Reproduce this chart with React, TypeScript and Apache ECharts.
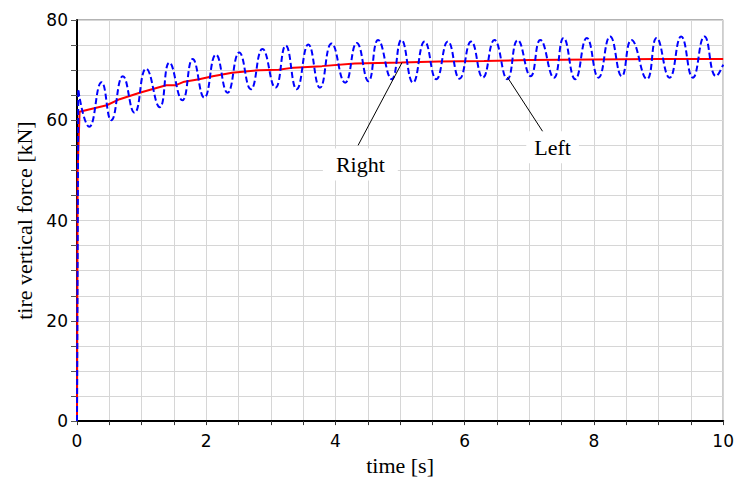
import React, { useEffect, useRef } from "react";
import * as echarts from "echarts";

// Right tire (red, solid)
const redTime = [0, 0.01, 0.04, 0.46, 0.66, 0.97, 1.38, 1.53, 1.66, 1.89, 2.1, 2.4, 2.82, 3.12, 3.35, 3.79, 4.3, 5.02, 5.6, 6.3, 7.0, 8.0, 9.0, 10.0];
const redForce = [0, 50, 61.7, 63.0, 64.2, 65.5, 67.0, 67.0, 67.7, 68.2, 68.8, 69.5, 70.0, 70.1, 70.5, 70.8, 71.3, 71.5, 71.7, 71.8, 72.0, 72.1, 72.2, 72.2];

// Left tire (blue, dashed): initial rise, then oscillation extrema
const blueRiseTime = [0, 0.02];
const blueRiseForce = [0, 66.0];
const blueTime = [
  0.02, 0.19, 0.38, 0.53, 0.71, 0.89, 1.07, 1.28, 1.43, 1.63, 1.79, 1.97, 2.15, 2.33, 2.51, 2.69,
  2.87, 3.07, 3.23, 3.4, 3.58, 3.76, 3.94, 4.15, 4.33, 4.51, 4.66, 4.87, 5.02, 5.2, 5.38, 5.56,
  5.74, 5.92, 6.1, 6.28, 6.46, 6.66, 6.82, 7.02, 7.17, 7.38, 7.53, 7.71, 7.89, 8.07, 8.25, 8.43,
  8.58, 8.82, 8.97, 9.17, 9.35, 9.53, 9.71, 9.89, 10.0,
];
const blueForce = [
  66.0, 58.7, 67.6, 60.0, 68.8, 61.5, 70.3, 62.6, 71.5, 64.0, 72.2, 64.5, 73.1, 65.5, 73.5, 66.2,
  74.2, 66.5, 74.9, 66.2, 75.1, 66.5, 75.3, 67.5, 75.4, 67.8, 76.0, 68.2, 76.0, 67.5, 75.7, 68.2,
  75.7, 68.3, 75.7, 68.5, 76.0, 68.2, 76.0, 68.8, 76.0, 68.5, 76.4, 68.2, 76.4, 68.5, 76.7, 68.8,
  76.0, 68.2, 76.4, 68.5, 76.7, 68.5, 76.7, 68.8, 71.1,
];

const xTickLabels = [0, 2, 4, 6, 8, 10];
const yTickLabels = [0, 20, 40, 60, 80];

const annotationNames = ["Right", "Left"];
const annotationLineStart = [[5.03, 71.5], [6.66, 68.6]];
const annotationLineEnd = [[4.35, 55.0], [7.23, 57.3]];
const annotationLabelAt = [[4.385, 51.2], [7.36, 54.6]];
const annotationPadding = [[5, 13], [5, 8]];

const zip = (xs: number[], ys: number[]) => xs.map((x, i) => [x, ys[i]]);

export default function App() {
  const ref = useRef<HTMLDivElement>(null);
  useEffect(() => {
    if (!ref.current) return;
    const chart = echarts.init(ref.current, null, { renderer: "svg" });
    const serif = "'Liberation Serif', 'Times New Roman', serif";
    const sans = "'DejaVu Sans', sans-serif";
    chart.setOption({
      animation: false,
      backgroundColor: "#fff",
      grid: {
        left: 77,
        right: 10,
        top: 20,
        bottom: 55,
        show: true,
        borderColor: "#666",
        borderWidth: 1,
        containLabel: false,
      },
      xAxis: {
        type: "value",
        min: 0,
        max: 10,
        interval: 0.5,
        name: "time [s]",
        nameLocation: "middle",
        nameGap: 28,
        nameTextStyle: { fontFamily: serif, fontSize: 22, color: "#000" },
        axisLine: { show: true, onZero: false, lineStyle: { color: "#000", width: 2 } },
        axisTick: { show: true, length: 4, lineStyle: { color: "#333" } },
        axisLabel: {
          margin: 11,
          fontFamily: sans,
          fontSize: 17,
          color: "#000",
          formatter: (v: number) => (xTickLabels.includes(v) ? String(v) : ""),
        },
        splitLine: { show: true, lineStyle: { color: "#d6d6d6", width: 1 } },
      },
      yAxis: {
        type: "value",
        min: 0,
        max: 80,
        interval: 5,
        name: "tire vertical force [kN]",
        nameLocation: "middle",
        nameGap: 42,
        nameTextStyle: { fontFamily: serif, fontSize: 22, color: "#000" },
        axisLine: { show: true, onZero: false, lineStyle: { color: "#000", width: 2 } },
        axisTick: { show: true, length: 6, lineStyle: { color: "#555" } },
        axisLabel: {
          margin: 9,
          fontFamily: sans,
          fontSize: 17,
          color: "#000",
          formatter: (v: number) => (yTickLabels.includes(v) ? String(v) : ""),
        },
        splitLine: { show: true, lineStyle: { color: "#d6d6d6", width: 1 } },
      },
      series: [
        {
          name: "Right",
          type: "line",
          data: zip(redTime, redForce),
          showSymbol: false,
          symbol: "none",
          lineStyle: { color: "#ff0000", width: 2 },
          z: 2,
        },
        {
          name: "Left rise",
          type: "line",
          data: zip(blueRiseTime, blueRiseForce),
          showSymbol: false,
          symbol: "none",
          lineStyle: { color: "#0000ff", width: 2, type: [6, 3] },
          z: 3,
        },
        {
          name: "Left",
          type: "line",
          data: zip(blueTime, blueForce),
          smooth: 0.5,
          showSymbol: false,
          symbol: "none",
          lineStyle: { color: "#0000ff", width: 2, type: [6, 3] },
          z: 3,
          markLine: {
            silent: true,
            symbol: ["none", "none"],
            label: { show: false },
            lineStyle: { color: "#000", width: 1, type: "solid" },
            data: annotationNames.map((_, i) => [
              { coord: annotationLineStart[i] },
              { coord: annotationLineEnd[i] },
            ]),
          },
          markPoint: {
            silent: true,
            symbol: "rect",
            symbolSize: 1,
            itemStyle: { color: "rgba(0,0,0,0)" },
            data: annotationNames.map((n, i) => ({
              name: n,
              coord: annotationLabelAt[i],
              label: {
                show: true,
                position: "inside",
                formatter: n,
                fontFamily: serif,
                fontSize: 22,
                color: "#000",
                backgroundColor: "#fff",
                padding: annotationPadding[i],
              },
            })),
          },
        },
      ],
    });
    return () => chart.dispose();
  }, []);
  return (
    <div
      ref={ref}
      style={{ position: "absolute", left: 0, top: 0, width: 737, height: 481, background: "#fff" }}
    />
  );
}
